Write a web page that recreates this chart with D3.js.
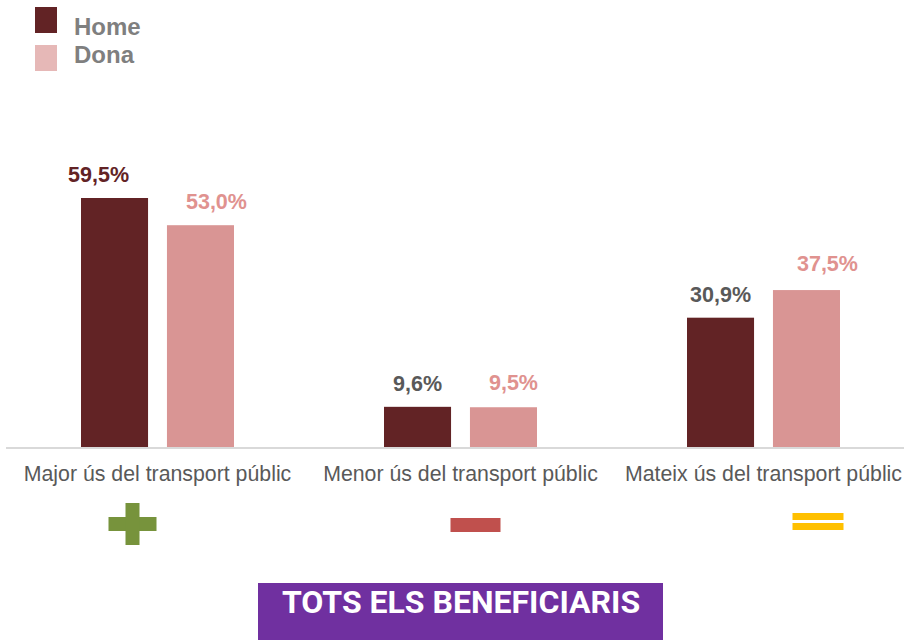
<!DOCTYPE html>
<html>
<head>
<meta charset="utf-8">
<script src="https://cdn.jsdelivr.net/npm/d3@7"></script>
<style>
  body { margin: 0; background: #fff; }
  text { font-family: "Liberation Sans", Arial, sans-serif; }
</style>
</head>
<body>
<div id="chart"></div>
<script>
const categories = ["Major ús del transport públic", "Menor ús del transport públic", "Mateix ús del transport públic"];
const series = ["Home", "Dona"];
const homeValues = [59.5, 9.6, 30.9];
const donaValues = [53.0, 9.5, 37.5];
const bannerTitle = "TOTS ELS BENEFICIARIS";

const colors = { Home: "#622325", Dona: "#d99594" };
const legendColors = { Home: "#622325", Dona: "#e6b8b7" };
const labelColors = { Home: ["#622325", "#595959", "#595959"], Dona: ["#e0928f", "#e0928f", "#e0928f"] };
// value labels are nudged sideways in the original
const labelShift = { Home: [-16, 0, 0], Dona: [16, 10, 21] };
const labelLift = { Home: [16, 16, 16], Dona: [16, 17, 19] };

const width = 904, height = 640;
const baseY = 447;

const svg = d3.select("#chart")
  .append("svg")
  .attr("width", width)
  .attr("height", height);

const data = categories.map((c, i) => ({ category: c, idx: i, Home: homeValues[i], Dona: donaValues[i] }));

const x0 = d3.scaleBand().domain(categories).range([6, 915]);
const x1 = d3.scaleBand().domain(series).range([75, 228]).paddingInner(0.22);
const y = d3.scaleLinear().domain([0, 59.5]).range([baseY, 198]);

// Axis line
svg.append("line")
  .attr("x1", 6).attr("x2", 904)
  .attr("y1", baseY + 1).attr("y2", baseY + 1)
  .attr("stroke", "#d9d9d9")
  .attr("stroke-width", 2);

// Bars
const groups = svg.selectAll(".grp")
  .data(data)
  .join("g")
  .attr("class", "grp")
  .attr("transform", (d) => `translate(${x0(d.category)},0)`);

groups.selectAll("rect")
  .data((d) => series.map((s) => ({ key: s, value: d[s], idx: d.idx })))
  .join("rect")
  .attr("x", (d) => x1(d.key))
  .attr("y", (d) => y(d.value))
  .attr("width", x1.bandwidth())
  .attr("height", (d) => baseY - y(d.value))
  .attr("fill", (d) => colors[d.key]);

groups.selectAll(".val")
  .data((d) => series.map((s) => ({ key: s, value: d[s], idx: d.idx })))
  .join("text")
  .attr("class", "val")
  .attr("x", (d) => x1(d.key) + x1.bandwidth() / 2 + labelShift[d.key][d.idx])
  .attr("y", (d) => y(d.value) - labelLift[d.key][d.idx])
  .attr("text-anchor", "middle")
  .attr("font-size", 21.5)
  .attr("font-weight", "bold")
  .attr("fill", (d) => labelColors[d.key][d.idx])
  .text((d) => d3.format(".1f")(d.value).replace(".", ",") + "%");

// Category labels
svg.selectAll(".cat")
  .data(categories)
  .join("text")
  .attr("class", "cat")
  .attr("x", (d) => x0(d) + x0.bandwidth() / 2)
  .attr("y", 481)
  .attr("text-anchor", "middle")
  .attr("font-size", 21.3)
  .attr("fill", "#595959")
  .text((d) => d);

// Icons under categories
const c = (i) => x0(categories[i]) + x0.bandwidth() / 2;
const plus = svg.append("g").attr("fill", "#77933c");
plus.append("rect").attr("x", c(0) - 49).attr("y", 517).attr("width", 48).attr("height", 14);
plus.append("rect").attr("x", c(0) - 32).attr("y", 503).attr("width", 14).attr("height", 42);

svg.append("rect").attr("x", c(1) - 10).attr("y", 518).attr("width", 50).attr("height", 14).attr("fill", "#c0504d");

const eq = svg.append("g").attr("fill", "#ffc000");
eq.append("rect").attr("x", c(2) + 29).attr("y", 513).attr("width", 51).attr("height", 7);
eq.append("rect").attr("x", c(2) + 29).attr("y", 523).attr("width", 51).attr("height", 7);

// Legend
const legend = svg.append("g");
series.forEach((s, i) => {
  legend.append("rect")
    .attr("x", 35).attr("y", 7 + i * 38)
    .attr("width", 22).attr("height", 26)
    .attr("fill", legendColors[s]);
  legend.append("text")
    .attr("x", 74).attr("y", 35 + i * 28)
    .attr("font-size", 24)
    .attr("font-weight", "bold")
    .attr("fill", "#7f7f7f")
    .text(s);
});

// Banner
svg.append("rect")
  .attr("x", 258).attr("y", 583)
  .attr("width", 405).attr("height", 57)
  .attr("fill", "#7030a0");
svg.append("text")
  .attr("x", 461).attr("y", 613)
  .attr("text-anchor", "middle")
  .style("font-family", "Roboto, sans-serif")
  .attr("font-size", 32)
  .attr("font-weight", "bold")
  .attr("fill", "#fff")
  .text(bannerTitle);
</script>
</body>
</html>
